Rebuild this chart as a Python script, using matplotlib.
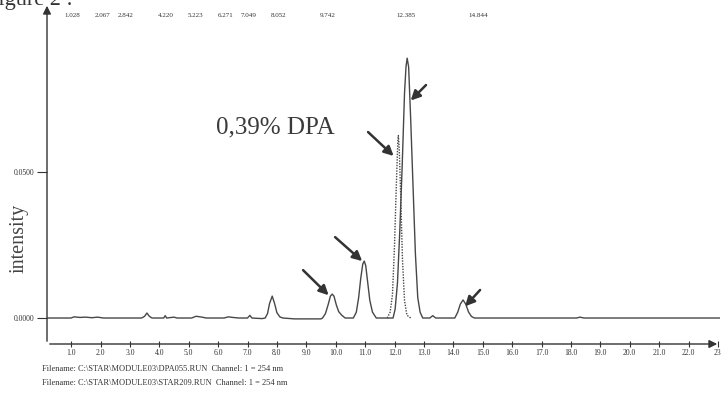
import matplotlib
matplotlib.use("Agg")
import matplotlib.pyplot as plt

# trace (retention time in min, intensity)
trace_x = [0.2, 1.0, 1.1, 1.3, 1.5, 1.7, 1.9, 2.1, 3.4, 3.5, 3.58, 3.66, 3.75,
           4.15, 4.2, 4.25, 4.5, 4.6, 5.1, 5.25, 5.45, 5.6, 6.2, 6.35, 6.5, 6.7,
           7.0, 7.08, 7.15, 7.5, 7.6, 7.68, 7.75, 7.84, 7.92, 8.0, 8.1, 8.2,
           8.6, 9.5, 9.55, 9.65, 9.74, 9.82, 9.88, 9.94, 10.02, 10.10, 10.2, 10.32,
           10.60, 10.70, 10.78, 10.85, 10.92, 10.97, 11.02, 11.09, 11.16, 11.25, 11.38,
           11.95, 12.02, 12.10, 12.18, 12.26, 12.34, 12.39, 12.43, 12.48, 12.55,
           12.63, 12.71, 12.79, 12.87, 12.96, 13.2, 13.3, 13.4, 14.05, 14.15, 14.24,
           14.33, 14.42, 14.52, 14.62, 14.72, 18.2, 18.3, 18.45, 23.07]
trace_y = [0, 0, 0.0004, 0.0002, 0.0003, 0.0001, 0.0003, 0, 0, 0.0006, 0.0017,
           0.0006, 0, 0, 0.0008, 0, 0.0003, 0, 0, 0.0006, 0.0003, 0, 0, 0.0004,
           0.0002, 0, 0, 0.0009, 0, -0.0002, 0, 0.0015, 0.005, 0.0075, 0.005,
           0.0018, 0.0004, 0, -0.0003, -0.0003, 0, 0.0015, 0.0045, 0.0075, 0.0082,
           0.0075, 0.0045, 0.0022, 0.001, 0, 0, 0.002, 0.007, 0.0135, 0.0185,
           0.0195, 0.018, 0.012, 0.006, 0.002, 0, 0, 0.003, 0.012, 0.030, 0.052,
           0.077, 0.086, 0.089, 0.086, 0.068, 0.045, 0.022, 0.007, 0.002, 0,
           0, 0.0008, 0, 0, 0.002, 0.0048, 0.0062, 0.0048, 0.002, 0.0005, 0,
           0, 0.0003, 0, 0]

# second (DPA) run, dotted
dpa_x = [11.75, 11.85, 11.93, 12.0, 12.06, 12.11, 12.13, 12.16, 12.21, 12.27,
         12.34, 12.42, 12.55]
dpa_y = [0, 0.002, 0.008, 0.025, 0.045, 0.060, 0.0625, 0.058, 0.042, 0.020,
         0.006, 0.001, 0]

ret_times = ["1.028", "2.067", "2.842", "4.220", "5.223", "6.271", "7.049",
             "8.052", "9.742", "12.385", "14.844"]
x_ticks = list(range(1, 24))
x_labels = ["%.1f" % t for t in x_ticks[:-1]] + ["23"]
y_ticks = [0.0, 0.05]
y_labels = ["0.0000", "0.0500"]

# arrows: (tail, head)
arrows = [((8.89, 0.0164), (9.76, 0.0078)),
          ((9.98, 0.0277), (10.90, 0.0195)),
          ((11.10, 0.0637), (11.97, 0.0555)),
          ((13.07, 0.0798), (12.55, 0.0745)),
          ((14.91, 0.0096), (14.40, 0.0040))]

serif = ["Liberation Serif", "DejaVu Serif"]
ink = "#474747"

fig = plt.figure(figsize=(7.23, 3.96), dpi=100)
ax = fig.add_axes([47 / 723, 1 - 344 / 396, 673 / 723, 341 / 396])

ax.plot(trace_x, trace_y, color=ink, lw=1.0)
ax.plot(dpa_x, dpa_y, color=ink, lw=1.0, ls=(0, (1, 1)))

ax.set_xlim(0.18, 23.07)
ax.set_ylim(-0.0089, 0.1079)

for s in ax.spines.values():
    s.set_visible(False)
# axis lines with arrow heads
ax.annotate("", xy=(0, 1), xytext=(0, 0), xycoords="axes fraction",
            arrowprops=dict(arrowstyle="-|>", color="#333", lw=1.0, mutation_scale=12))
ax.annotate("", xy=(1, 0), xytext=(0, 0), xycoords="axes fraction",
            arrowprops=dict(arrowstyle="-|>", color="#333", lw=1.0, mutation_scale=12))

ax.set_xticks(x_ticks)
ax.set_xticklabels(x_labels, fontfamily=serif, fontsize=5.5, color="#333")
ax.tick_params(axis="x", direction="inout", length=5, width=0.8, color="#333", pad=1)
ax.set_yticks(y_ticks)
ax.set_yticklabels(y_labels, fontfamily=serif, fontsize=5.5, color="#333")
ax.tick_params(axis="y", direction="out", length=7, width=0.8, color="#333", pad=2)
ax.set_ylabel("intensity", fontfamily=serif, fontsize=14.5, color="#444")
ax.yaxis.set_label_coords(-0.028, 0.31)

for lab in ret_times:
    ax.text(float(lab), 0.1035, lab, ha="center", va="center",
            fontfamily=serif, fontsize=5, color="#333")

ax.text(7.94, 0.0654, "0,39% DPA", ha="center", va="center",
        fontfamily=serif, fontsize=18, color="#3a3a3a")

for tail, head in arrows:
    ax.annotate("", xy=head, xytext=tail,
                arrowprops=dict(arrowstyle="-|>", color="#333", lw=1.8,
                                mutation_scale=14, shrinkA=0, shrinkB=0))

fig.text(73 / 723, 1 - 5 / 396, "Figure 2 :", ha="right", va="baseline",
         fontfamily=serif, fontsize=16, color="#333")
fig.text(42 / 723, 1 - 369 / 396, "Filename: C:\\STAR\\MODULE03\\DPA055.RUN  Channel: 1 = 254 nm",
         ha="left", va="center", fontfamily=serif, fontsize=6, color="#333")
fig.text(42 / 723, 1 - 383 / 396, "Filename: C:\\STAR\\MODULE03\\STAR209.RUN  Channel: 1 = 254 nm",
         ha="left", va="center", fontfamily=serif, fontsize=6, color="#333")

fig.savefig("out.png", dpi=100)
